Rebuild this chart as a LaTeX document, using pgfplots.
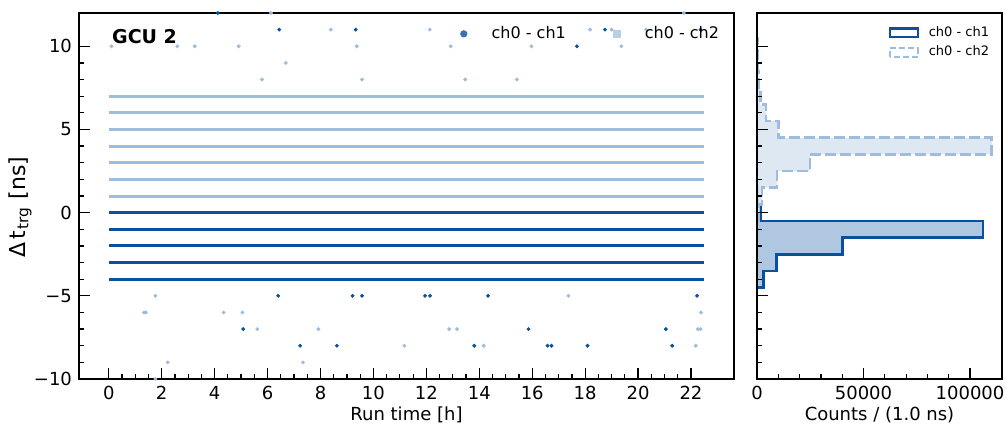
\documentclass[border=0pt]{standalone}
\usepackage{fontspec}
\setmainfont{DejaVu Sans}
\usepackage{pgfplots}
\pgfplotsset{compat=1.18}
\usetikzlibrary{calc}
\definecolor{DkBlue}{RGB}{8,81,156}
\definecolor{LtBlue}{RGB}{158,188,222}
\definecolor{LegDk}{RGB}{58,112,181}
\definecolor{LegLt}{RGB}{185,205,229}
\definecolor{FillDk}{RGB}{176,199,226}
\definecolor{FillLt}{RGB}{218,229,241}

\begin{document}
\begin{tikzpicture}
\pgfplotsset{
  gcu/.style={
    scale only axis, height=183pt,
    ymin=-10, ymax=12,
    ytick={-10,-5,0,5,10}, minor y tick num=4,
    tick align=inside, xtick pos=bottom, ytick pos=left,
    major tick length=5.5pt, minor tick length=2.5pt,
    every tick/.style={black, line width=0.6pt},
    axis line style={line width=0.7pt},
    axis on top,
    tick label style={font=\fontsize{9}{10}\selectfont},
    label style={font=\fontsize{9}{10}\selectfont},
    /pgf/number format/assume math mode=true,
    xlabel style={at={(axis description cs:0.5,-0.099)}, anchor=center},
  }
}

% ---- left: dt vs run time
\begin{axis}[gcu, name=L, width=327.5pt,
  xmin=-1.125, xmax=23.625,
  xtick={0,2,...,22}, minor x tick num=3,
  yticklabels={−10,−5,0,5,10},
  xlabel={Run time [h]},
  ylabel={Δ\kern0.1em t\kern0.08em\textsubscript{trg} [ns]},
  ylabel style={at={(axis description cs:-0.09,0.47)}, anchor=center,
    font=\fontsize{11}{12}\selectfont},
  legend columns=2,
  legend image code/.code={\path[draw=none, fill=none] (0cm,0cm) -- (0.72cm,0cm);
    \draw[mark repeat=2,mark phase=2,#1]
    plot coordinates {(0cm,0cm)(0.3cm,0cm)(0.72cm,0cm)};},
  legend style={draw=none, fill=none, at={(rel axis cs:0.993,0.943)},
    anchor=east, font=\fontsize{8}{9}\selectfont,
    /tikz/every even column/.append style={column sep=15pt}},
]
% saturated rows of ch0 - ch2
\addplot[LtBlue, line width=1.5pt, forget plot] coordinates {(0,7)(22.5,7)};
\addplot[LtBlue, line width=1.5pt, forget plot] coordinates {(0,6)(22.5,6)};
\addplot[LtBlue, line width=1.5pt, forget plot] coordinates {(0,5)(22.5,5)};
\addplot[LtBlue, line width=1.5pt, forget plot] coordinates {(0,4)(22.5,4)};
\addplot[LtBlue, line width=1.5pt, forget plot] coordinates {(0,3)(22.5,3)};
\addplot[LtBlue, line width=1.5pt, forget plot] coordinates {(0,2)(22.5,2)};
\addplot[LtBlue, line width=1.5pt, forget plot] coordinates {(0,1)(22.5,1)};
% saturated rows of ch0 - ch1
\addplot[DkBlue, line width=1.5pt, forget plot] coordinates {(0,0)(22.5,0)};
\addplot[DkBlue, line width=1.5pt, forget plot] coordinates {(0,-1)(22.5,-1)};
\addplot[DkBlue, line width=1.5pt, forget plot] coordinates {(0,-2)(22.5,-2)};
\addplot[DkBlue, line width=1.5pt, forget plot] coordinates {(0,-3)(22.5,-3)};
\addplot[DkBlue, line width=1.5pt, forget plot] coordinates {(0,-4)(22.5,-4)};
% outliers
\addplot[only marks, mark=*, mark size=0.75pt, LtBlue, forget plot] coordinates {
  (0.1,10)(2.59,10)(3.25,10)(4.91,10)(6.13,12)(6.69,9)(5.79,8)(8.39,11)
  (9.37,10)(9.57,8)(12.13,11)(12.92,10)(13.47,8)(15.42,8)(15.97,10)
  (18.19,11)(19.0,11)(19.37,10)(20.3,11)(21.73,12)
  (1.76,-5)(17.37,-5)(1.33,-6)(1.40,-6)(4.34,-6)(5.05,-6)(22.38,-6)
  (5.61,-7)(7.92,-7)(12.86,-7)(13.16,-7)(22.26,-7)(22.36,-7)
  (11.17,-8)(14.17,-8)(22.18,-8)(2.23,-9)(7.34,-9)(1.76,-10)
};
\addplot[only marks, mark=*, mark size=0.75pt, DkBlue, forget plot] coordinates {
  (4.12,12)(6.44,11)(9.33,11)(17.69,10)(18.75,11)(22.36,11)
  (6.40,-5)(9.21,-5)(9.57,-5)(11.95,-5)(12.14,-5)(14.33,-5)(22.23,-5)
  (5.08,-7)(15.86,-7)(21.05,-7)
  (7.23,-8)(8.62,-8)(13.81,-8)(16.58,-8)(16.73,-8)(18.09,-8)(21.29,-8)
};
\addlegendimage{only marks, mark=*, mark size=1.6pt, color=LegDk}
\addlegendentry{ch0 - ch1}
\addlegendimage{only marks, mark=square*, mark size=1.7pt, color=LegLt}
\addlegendentry{ch0 - ch2}
\node[anchor=north west, inner sep=0pt, font=\bfseries\fontsize{9.5}{10}\selectfont]
  at (rel axis cs:0.05,0.956) {GCU 2};
\end{axis}

% ---- right: projected histogram
\begin{axis}[gcu, name=R, width=122.5pt,
  at={($(L.south east)+(11.5pt,0)$)}, anchor=south west,
  xmin=0, xmax=115000,
  xtick={0,50000,100000}, xticklabels={0,50000,100000},
  minor x tick num=4, scaled x ticks=false,
  yticklabels={},
  xlabel={Counts / (1.0 ns)},
  legend image code/.code={\path[draw=none, fill=none] (0pt,0pt) -- (17.5pt,0pt);
    \draw[#1, line width=1.1pt] (0pt,-2.1pt) rectangle (14pt,2.1pt);},
  legend style={draw=none, fill=none, at={(rel axis cs:0.965,0.976)},
    anchor=north east, inner sep=0pt, font=\fontsize{6.5}{7}\selectfont,
    row sep=-0.5pt},
]
\addplot[draw=DkBlue, line width=1.3pt, fill=FillDk, forget plot] coordinates {
  (0,-4.5)(3000,-4.5)(3000,-3.5)(9250,-3.5)(9250,-2.5)(40200,-2.5)
  (40200,-1.5)(106000,-1.5)(106000,-0.5)(1900,-0.5)(1900,0.5)
  (400,0.5)(400,1.5)(0,1.5)
} -- cycle;
\addplot[draw=LtBlue, line width=1.3pt, dash pattern=on 5.5pt off 2pt,
  fill=FillLt, fill opacity=0.9, forget plot] coordinates {
  (0,-0.5)(900,-0.5)(900,0.5)(2300,0.5)(2300,1.5)(9400,1.5)(9400,2.5)
  (24900,2.5)(24900,3.5)(110200,3.5)(110200,4.5)(10000,4.5)(10000,5.5)
  (4300,5.5)(4300,6.5)(1500,6.5)(1500,7.5)(600,7.5)(600,8.5)(300,8.5)
  (300,9.5)(200,9.5)(200,10.5)(0,10.5)
} -- cycle;
\addlegendimage{draw=DkBlue, fill=none}
\addlegendentry{ch0 - ch1}
\addlegendimage{draw=LtBlue, fill=none, dash pattern=on 3pt off 1.5pt}
\addlegendentry{ch0 - ch2}
\end{axis}

\pgfresetboundingbox
\path ($(L.south west)+(-39.5pt,-25pt)$) rectangle ($(L.south west)+(463pt,189.5pt)$);
\end{tikzpicture}
\end{document}
